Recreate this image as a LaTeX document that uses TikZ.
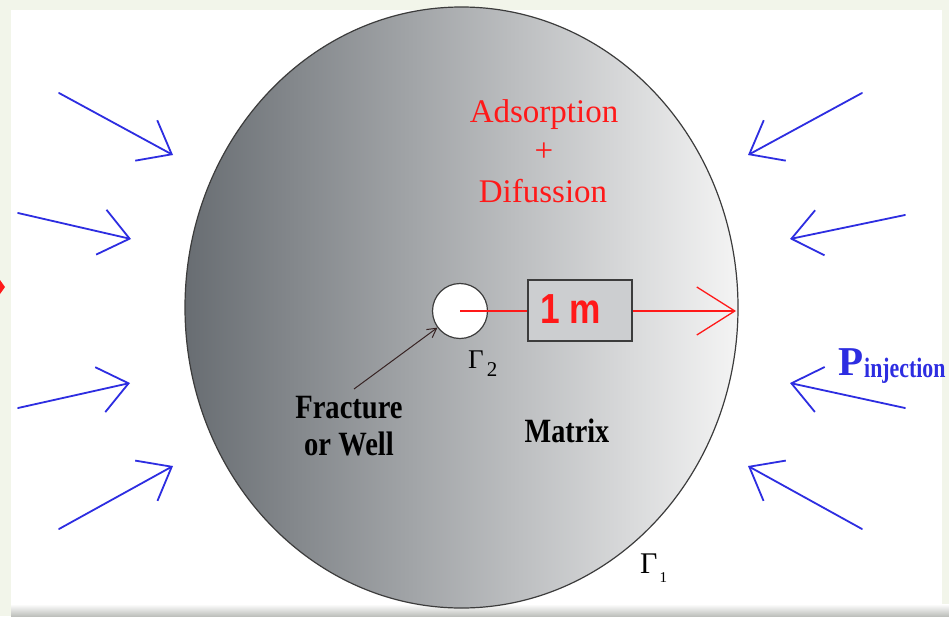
\documentclass[tikz,border=0pt]{standalone}
\usepackage{fontspec}
\setmainfont{Liberation Serif}
\newfontfamily\arialfont{Liberation Sans}
\usetikzlibrary{shapes.geometric,arrows.meta}
\definecolor{arrblue}{RGB}{45,45,225}
\definecolor{ltred}{RGB}{255,25,25}
\definecolor{framebg}{RGB}{242,245,234}
\definecolor{ellleft}{RGB}{104,109,114}
\definecolor{ellright}{RGB}{244,244,244}
\definecolor{boxgray}{RGB}{204,206,208}
\definecolor{edgegray}{RGB}{60,60,60}
\definecolor{fracline}{RGB}{55,35,35}
\begin{document}
\begin{tikzpicture}[x=1pt,y=-1pt,
  blarr/.style={draw=arrblue, line width=1.8pt, line cap=round,
    -{Straight Barb[length=29pt,width=46pt,line width=1.8pt]}},
  redtxt/.style={text=ltred, inner sep=0, font=\fontsize{33}{36}\selectfont},
  blktxt/.style={text=black, inner sep=0, font=\bfseries\fontsize{34}{36}\selectfont},
  gam/.style={text=black, inner sep=0, anchor=base west}]
% background frame
\useasboundingbox (0,0) rectangle (949,616);
\fill[framebg] (0,0) rectangle (949,616);
\fill[white] (11,10) rectangle (942,606);
\shade[top color=white, bottom color={rgb,255:red,190;green,192;blue,188}] (11,604) rectangle (949,616);
\fill[ltred] (0,280) -- (5,287) -- (0,294) -- cycle;
% matrix ellipse
\node[ellipse, minimum width=553pt, minimum height=601pt, inner sep=0,
      left color=ellleft, right color=ellright, draw=edgegray, line width=1.2pt] (ell) at (461.5,307.5) {};
% texts
\node[redtxt, anchor=base] (ads) at (544,122) {Adsorption};
\node[redtxt, anchor=base] (plus) at (544,161) {+};
\node[redtxt, anchor=base] (dif) at (543,202) {Difussion};
% hole, box, red arrow
\node[circle, minimum size=55pt, inner sep=0, fill=white, draw=edgegray, line width=1.2pt] (hole) at (460,311) {};
\node[rectangle, minimum width=104pt, minimum height=61pt, inner sep=0, fill=boxgray, draw=edgegray, line width=1.2pt] (box) at (580,310.5) {};
\node[inner sep=0, anchor=base, text=ltred, font=\arialfont\bfseries\fontsize{42}{44}\selectfont] (onem) at (570.5,323) {\scalebox{0.84}[1]{1 m}};
\draw[ltred, line width=1.3pt] (hole.center) -- (box.west |- hole.center);
\coordinate (rtip) at (736,311);
\draw[ltred, line width=1.3pt, -{Straight Barb[length=38pt,width=48pt,line width=1.3pt]}] (box.east |- rtip) -- (rtip);
% gamma labels
\node[gam] (g2) at (468,368) {\fontsize{27}{27}\selectfont Γ\hspace{3pt}\raisebox{-8pt}{\fontsize{21}{21}\selectfont 2}};
\node[gam] (g1) at (640,573) {\fontsize{30}{30}\selectfont Γ\hspace{2pt}\raisebox{-9pt}{\fontsize{15}{15}\selectfont 1}};
% fracture / matrix labels
\node[blktxt, anchor=base] (frac) at (349,418) {\scalebox{0.84}[1]{Fracture}};
\node[blktxt, anchor=base] (well) at (349,455) {\scalebox{0.84}[1]{or Well}};
\node[blktxt, anchor=base] (matrix) at (567,442) {\scalebox{0.83}[1]{Matrix}};
\coordinate (fs) at (354,389);
\draw[fracline, line width=1pt, -{Straight Barb[length=9pt,width=10pt,line width=1pt]}] (fs) -- (hole);
% P injection
\node[inner sep=0, anchor=base west, text=arrblue, font=\bfseries\fontsize{41}{42}\selectfont] (P) at (838,375) {P};
\node[inner sep=0, anchor=base west, text=arrblue, font=\bfseries\fontsize{28}{30}\selectfont] (inj) at (864,377) {\scalebox{0.78}[1]{injection}};
% blue arrows
\coordinate (a1) at (59,93);   \coordinate (b1) at (173,155);
\coordinate (a2) at (18,213);  \coordinate (b2) at (131,239);
\coordinate (a3) at (18,408);  \coordinate (b3) at (130,383);
\coordinate (a4) at (59,529);  \coordinate (b4) at (173,466);
\coordinate (a5) at (862,93);  \coordinate (b5) at (748,155);
\coordinate (a6) at (905,215); \coordinate (b6) at (790,239);
\coordinate (a7) at (905,408); \coordinate (b7) at (790,383);
\coordinate (a8) at (862,529); \coordinate (b8) at (748,466);
\foreach \i in {1,...,8} { \draw[blarr] (a\i) -- (b\i); }
\end{tikzpicture}
\end{document}
